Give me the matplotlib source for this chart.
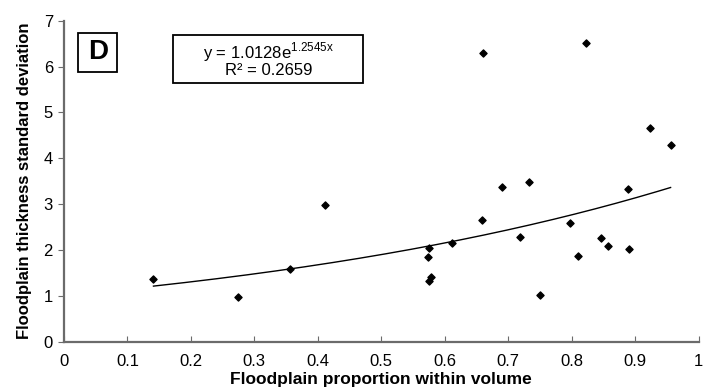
import matplotlib.pyplot as plt
from matplotlib.patches import Rectangle
import numpy as np

plt.rcParams['font.family'] = ['Liberation Sans', 'DejaVu Sans']
plt.rcParams['mathtext.fontset'] = 'custom'
plt.rcParams['mathtext.rm'] = 'Liberation Sans'

# floodplain proportion vs thickness standard deviation
prop = [0.141, 0.274, 0.356, 0.411, 0.660, 0.823, 0.923, 0.956, 0.690, 0.733,
        0.889, 0.659, 0.798, 0.718, 0.611, 0.576, 0.573, 0.846, 0.857, 0.890,
        0.810, 0.575, 0.579, 0.750]
sd = [1.37, 0.98, 1.58, 2.98, 6.29, 6.51, 4.65, 4.29, 3.38, 3.49,
      3.32, 2.66, 2.58, 2.28, 2.15, 2.03, 1.84, 2.25, 2.09, 2.01,
      1.86, 1.33, 1.40, 1.01]

# exponential fit reported on the chart
a, b = 1.0128, 1.2545

fig = plt.figure(figsize=(7.05, 3.92), dpi=100)
ax = fig.add_axes([64/705, 1 - 341.5/392, 634.5/705, 320.8/392])

xs = np.linspace(min(prop), max(prop), 200)
ax.plot(xs, a * np.exp(b * xs), color='black', lw=1.0)
ax.scatter(prop, sd, marker='D', s=13, color='black', zorder=3)

ax.set_xlim(0, 1)
ax.set_ylim(0, 7)
ax.set_xticks(np.arange(0, 1.01, 0.1))
ax.set_xticklabels(['0', '0.1', '0.2', '0.3', '0.4', '0.5', '0.6', '0.7', '0.8', '0.9', '1'])
ax.set_yticks(range(0, 8))

for side in ['top', 'right']:
    ax.spines[side].set_visible(False)
for side in ['left', 'bottom']:
    ax.spines[side].set_color('#6b6b6b')
    ax.spines[side].set_linewidth(1.6)

ax.tick_params(axis='x', direction='in', length=4, color='#6b6b6b', labelsize=12, pad=9)
ax.tick_params(axis='y', direction='out', length=4, color='#6b6b6b', labelsize=12, pad=4)

ax.set_xlabel('Floodplain proportion within volume', fontsize=12.5, fontweight='bold', labelpad=2)
ax.set_ylabel('Floodplain thickness standard deviation', fontsize=12, fontweight='bold', labelpad=8)

# panel letter box
ax.add_patch(Rectangle((0.0213, 5.88), 0.063, 0.85, fc='white', ec='black', lw=1.3, zorder=4))
ax.text(0.053, 6.31, 'D', fontsize=20, fontweight='bold', ha='center', va='center', zorder=5)

# fit equation box
ax.add_patch(Rectangle((0.172, 5.64), 0.300, 1.05, fc='white', ec='black', lw=1.3, zorder=4))
ax.text(0.322, 6.16, 'y = 1.0128e$^{\\mathrm{1.2545x}}$\nR² = 0.2659', fontsize=12,
        ha='center', va='center', linespacing=0.9, zorder=5)

fig.savefig('out.png', dpi=100)
